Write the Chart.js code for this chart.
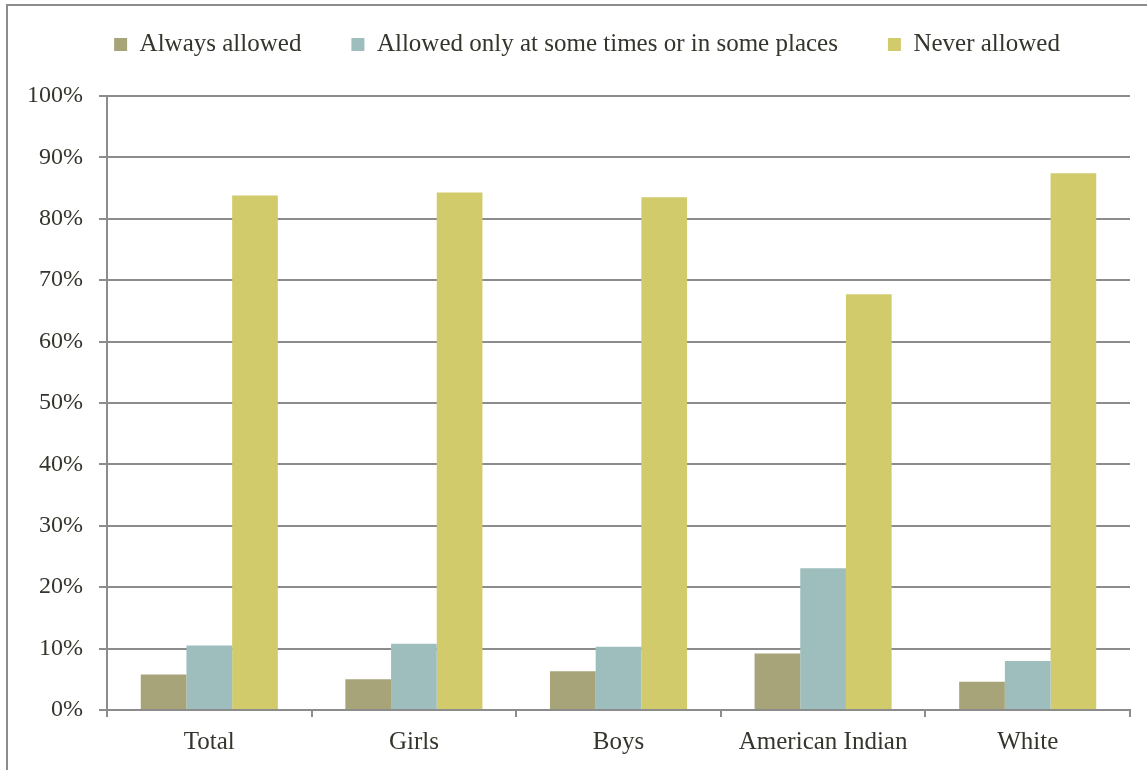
<!DOCTYPE html>
<html>
<head>
<meta charset="utf-8">
<script src="https://cdn.jsdelivr.net/npm/chart.js@4.4.1/dist/chart.umd.min.js"></script>
<style>
  html, body { margin: 0; padding: 0; background: #fff; }
  #wrap { position: relative; width: 1147px; height: 770px; overflow: hidden; }
  #frame { position: absolute; left: 6px; top: 4px; width: 1200px; height: 800px;
           border-top: 2px solid #8c8c8c; border-left: 2px solid #8c8c8c; }
  canvas { position: absolute; left: 0; top: 0; }
</style>
</head>
<body>
<div id="wrap">
  <div id="frame"></div>
  <canvas id="c" width="1147" height="770"></canvas>
</div>
<script>
// Groups and shares (percent) of each permission rule
const categories = ['Total', 'Girls', 'Boys', 'American Indian', 'White'];
const alwaysAllowed = [5.8, 5.0, 6.3, 9.2, 4.6];
const sometimesAllowed = [10.5, 10.8, 10.3, 23.1, 8.0];
const neverAllowed = [83.8, 84.3, 83.5, 67.7, 87.4];
const seriesNames = ['Always allowed', 'Allowed only at some times or in some places', 'Never allowed'];
const yTicks = [0, 10, 20, 30, 40, 50, 60, 70, 80, 90, 100];

const axisGray = '#8c8c8c';
const textColor = '#35352d';
const serif = 'Liberation Serif, Times New Roman, serif';

// Legend rows use a wide horizontal gap; pull the legend up, leave
// a fixed amount of room below it, and center it on the whole frame.
const legendPlacement = {
  id: 'legendPlacement',
  beforeInit(chart) {
    const fit = chart.legend.fit;
    chart.legend.fit = function () {
      fit.call(this);
      this.height += 29;
    };
  },
  afterLayout(chart) {
    chart.legend.left += 22;
    chart.legend.right += 22;
  }
};

new Chart(document.getElementById('c'), {
  type: 'bar',
  data: {
    labels: categories,
    datasets: [
      { label: seriesNames[0], data: alwaysAllowed, backgroundColor: '#a8a47a' },
      { label: seriesNames[1], data: sometimesAllowed, backgroundColor: '#9ebebd' },
      { label: seriesNames[2], data: neverAllowed, backgroundColor: '#d2cb6c' }
    ]
  },
  plugins: [legendPlacement],
  options: {
    responsive: false,
    animation: false,
    devicePixelRatio: 1,
    layout: { padding: { top: -18, right: 17, bottom: 0, left: 0 } },
    datasets: { bar: { categoryPercentage: 0.67, barPercentage: 1.0 } },
    plugins: {
      tooltip: { enabled: false },
      legend: {
        position: 'top',
        align: 'center',
        labels: {
          boxWidth: 13,
          boxHeight: 13,
          padding: 50,
          color: textColor,
          font: { family: serif, size: 25 }
        }
      }
    },
    scales: {
      x: {
        afterFit: s => { s.height = 60; },
        grid: { offset: true, drawOnChartArea: false, drawTicks: true, tickLength: 7, color: axisGray, lineWidth: 2 },
        border: { display: true, color: axisGray, width: 2 },
        ticks: { color: textColor, padding: 10, font: { family: serif, size: 25 } }
      },
      y: {
        min: 0,
        max: 100,
        afterFit: s => { s.width = 107; },
        afterBuildTicks: s => { s.ticks = yTicks.map(v => ({ value: v })); },
        grid: { color: axisGray, lineWidth: 2, tickLength: 8 },
        border: { display: true, color: axisGray, width: 2 },
        ticks: { color: textColor, padding: 16, font: { family: serif, size: 24 },
                 callback: v => v + '%' }
      }
    }
  }
});
</script>
</body>
</html>
